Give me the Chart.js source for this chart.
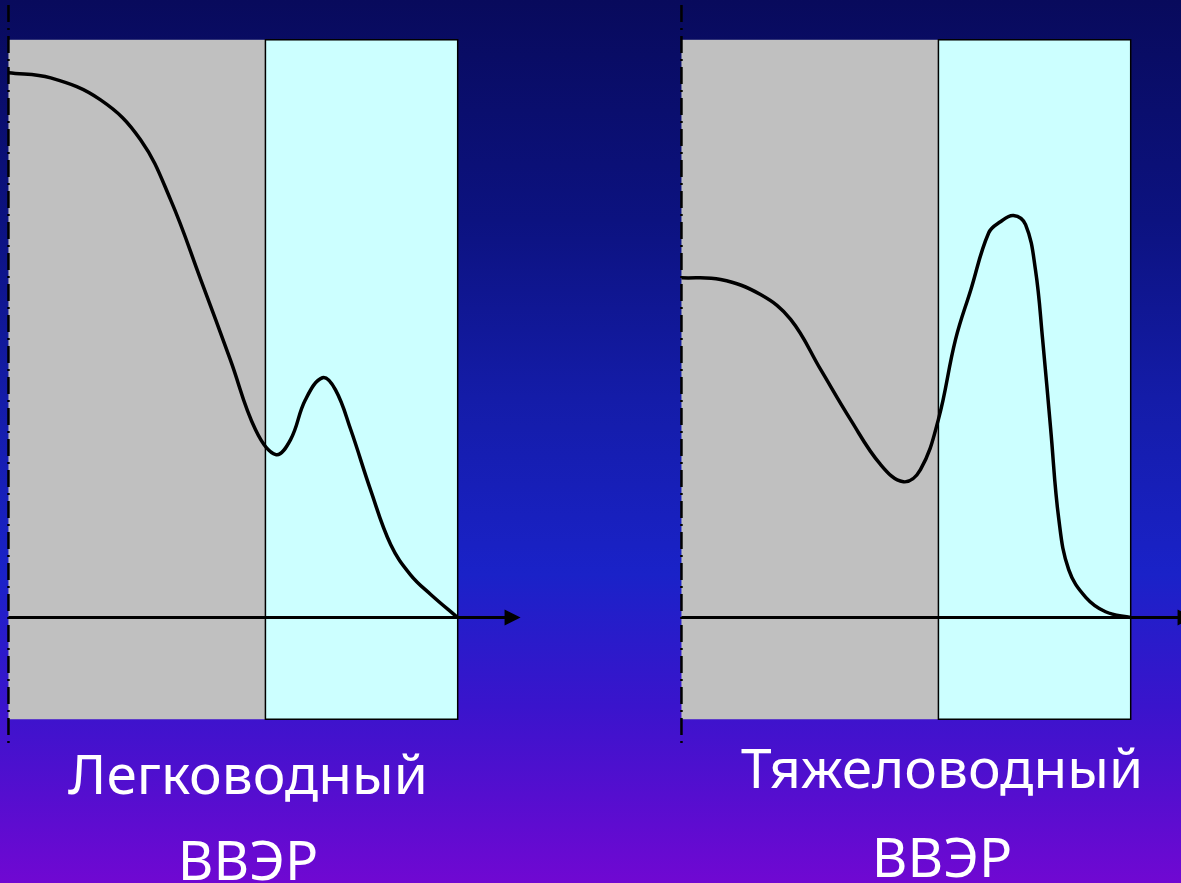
<!DOCTYPE html>
<html>
<head>
<meta charset="utf-8">
<script src="https://cdn.jsdelivr.net/npm/chart.js@4"></script>
<style>
  html, body { margin: 0; padding: 0; }
  body {
    width: 1181px; height: 883px; overflow: hidden; position: relative;
    background: linear-gradient(to bottom, #080a5c 0%, #0c1280 25%, #141ca8 45%, #1a22c8 65%, #3a14cc 80%, #7008d2 100%);
    font-family: "Noto Sans", sans-serif;
  }
  canvas { position: absolute; }
  #left { left: -14px; top: -18px; }
  #right { left: 659px; top: -18px; }
  .label { position: absolute; color: #fff; font-size: 55px; text-align: center; width: 500px; line-height: 1; }
</style>
</head>
<body>
<canvas id="left" width="584" height="780"></canvas>
<canvas id="right" width="584" height="780"></canvas>
<div class="label" style="left:-2px; top:745px;">Легководный</div>
<div class="label" style="left:-2px; top:831px;">ВВЭР</div>
<div class="label" style="left:692px; top:739px;">Тяжеловодный</div>
<div class="label" style="left:692px; top:828px;">ВВЭР</div>
<script>
// zones along the x axis (same units as the curves)
const greyZone = [0, 5.72];
const cyanZone = [5.72, 10];
const zoneBottom = -1.76;
const zoneTop = 10;
const arrowEnd = 11.4;

// light-water curve
const leftX = [0, 0.94, 2.05, 2.94, 3.61, 4.28, 4.94, 5.50, 5.95, 6.28, 6.61, 6.99, 7.28, 7.62, 8.06, 8.51, 8.95, 9.40, 10];
const leftY = [9.43, 9.34, 8.96, 8.27, 7.23, 5.85, 4.46, 3.25, 2.82, 3.08, 3.77, 4.15, 3.94, 3.25, 2.21, 1.26, 0.74, 0.40, 0];

// heavy-water curve
const rightX = [0, 0.87, 1.76, 2.43, 3.10, 3.76, 4.43, 4.94, 5.32, 5.72, 6.10, 6.44, 6.84, 7.10, 7.39, 7.66, 7.88, 8.04, 8.22, 8.40, 8.62, 9.00, 9.44, 10];
const rightY = [5.88, 5.85, 5.59, 5.16, 4.29, 3.43, 2.65, 2.35, 2.56, 3.43, 4.81, 5.67, 6.66, 6.85, 6.96, 6.80, 6.02, 4.81, 3.25, 1.70, 0.83, 0.35, 0.10, 0];

const panelPlugin = {
    id: 'panel',
    beforeDatasetsDraw(chart) {
        const ctx = chart.ctx;
        const xs = chart.scales.x, ys = chart.scales.y;
        const top = ys.getPixelForValue(zoneTop), bottom = ys.getPixelForValue(zoneBottom);
        ctx.save();
        // grey zone
        let a = xs.getPixelForValue(greyZone[0]), b = xs.getPixelForValue(greyZone[1]);
        ctx.fillStyle = '#c0c0c0';
        ctx.fillRect(a, top, b - a, bottom - top);
        // cyan zone
        a = xs.getPixelForValue(cyanZone[0]); b = xs.getPixelForValue(cyanZone[1]);
        ctx.fillStyle = '#ccffff';
        ctx.fillRect(a, top, b - a, bottom - top);
        ctx.strokeStyle = '#000';
        ctx.lineWidth = 1.5;
        ctx.strokeRect(a, top, b - a, bottom - top);
        ctx.restore();
    },
    afterDatasetsDraw(chart) {
        const ctx = chart.ctx;
        const xs = chart.scales.x, ys = chart.scales.y;
        const y0 = ys.getPixelForValue(0);
        const x0 = xs.getPixelForValue(0), x1 = xs.getPixelForValue(arrowEnd);
        ctx.save();
        // horizontal axis with arrow
        ctx.strokeStyle = '#000';
        ctx.lineWidth = 3;
        ctx.beginPath();
        ctx.moveTo(x0, y0);
        ctx.lineTo(x1 - 14, y0);
        ctx.stroke();
        ctx.fillStyle = '#000';
        ctx.beginPath();
        ctx.moveTo(x1, y0);
        ctx.lineTo(x1 - 16, y0 - 8);
        ctx.lineTo(x1 - 16, y0 + 8);
        ctx.closePath();
        ctx.fill();
        // dash-dot vertical axis
        ctx.lineWidth = 2.5;
        ctx.setLineDash([17, 6, 2, 6]);
        ctx.beginPath();
        ctx.moveTo(x0, ys.getPixelForValue(10.6));
        ctx.lineTo(x0, ys.getPixelForValue(-2.25));
        ctx.stroke();
        ctx.restore();
    }
};

function makeChart(id, xs, ys) {
    const pts = xs.map((x, i) => ({ x: x, y: ys[i] }));
    return new Chart(document.getElementById(id), {
        type: 'line',
        data: {
            datasets: [{
                data: pts,
                borderColor: '#000',
                borderWidth: 3.5,
                pointRadius: 0,
                tension: 0.4,
                fill: false
            }]
        },
        options: {
            responsive: false,
            animation: false,
            layout: { padding: 0 },
            plugins: { legend: { display: false }, tooltip: { enabled: false } },
            scales: {
                x: { type: 'linear', min: -0.5, max: 12.5, display: false },
                y: { min: -2.5, max: 11, display: false }
            }
        },
        plugins: [panelPlugin]
    });
}

makeChart('left', leftX, leftY);
makeChart('right', rightX, rightY);
</script>
</body>
</html>
